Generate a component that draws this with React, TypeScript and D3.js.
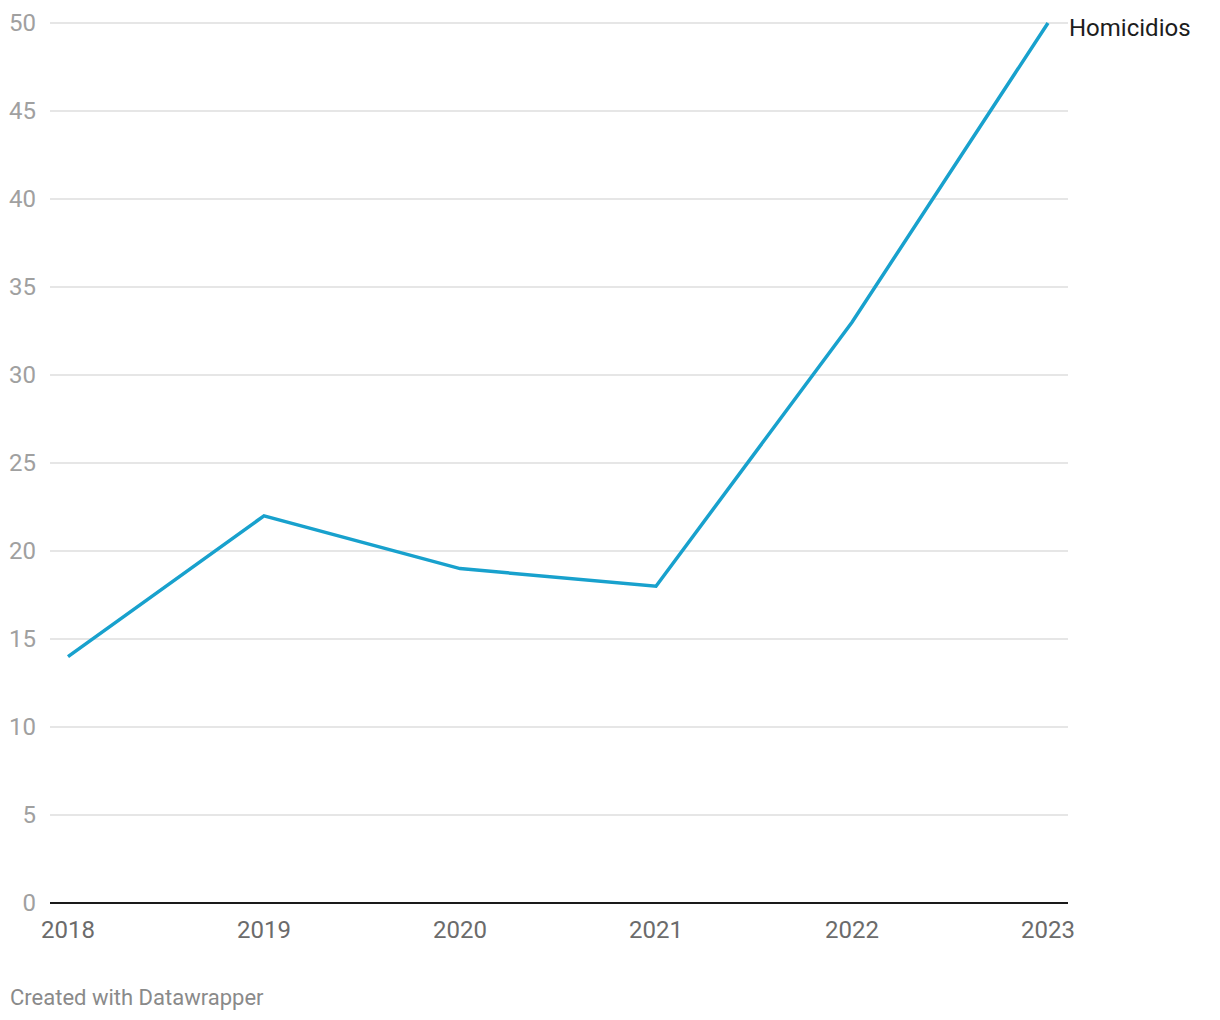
import React from "react";
import * as d3 from "d3";

const years = ["2018", "2019", "2020", "2021", "2022", "2023"];
const homicidios = [14, 22, 19, 18, 33, 50];
const yTicks = [0, 5, 10, 15, 20, 25, 30, 35, 40, 45, 50];
const seriesName = "Homicidios";

export default function App() {
  const W = 1220, H = 1020;
  const x = d3.scalePoint<string>().domain(years).range([68, 1048]);
  const y = d3.scaleLinear().domain([0, 50]).range([903, 23]);
  const line = d3
    .line<number>()
    .x((_, i) => x(years[i]) as number)
    .y((d) => y(d));
  const font = "Roboto, 'Noto Sans', sans-serif";
  const last = homicidios[homicidios.length - 1];
  return (
    <div style={{ position: "absolute", left: 0, top: 0 }}>
      <svg width={W} height={H} style={{ display: "block", background: "#fff" }} fontFamily={font}>
        {yTicks.map((t) => (
          <g key={t}>
            {t !== 0 && (
              <line x1={50} x2={1068} y1={y(t)} y2={y(t)} stroke="#dedede" strokeWidth={1.3} />
            )}
            <text x={36} y={y(t)} dy="0.35em" textAnchor="end" fontSize={24} fill="#a0a0a0">
              {t}
            </text>
          </g>
        ))}
        <line x1={50} x2={1068} y1={y(0)} y2={y(0)} stroke="#1a1a1a" strokeWidth={1.8} />
        {years.map((yr) => (
          <text key={yr} x={x(yr)} y={930} dy="0.35em" textAnchor="middle" fontSize={24} fill="#6b6b6b">
            {yr}
          </text>
        ))}
        <path d={line(homicidios) || ""} fill="none" stroke="#18a1cd" strokeWidth={3.5} strokeLinejoin="miter" />
        <text x={1069} y={y(last) + 5} dy="0.35em" fontSize={24} fill="#1d1d1d">
          {seriesName}
        </text>
        <text x={10} y={997} dy="0.35em" fontSize={22} fill="#8a8a8a">
          Created with Datawrapper
        </text>
      </svg>
    </div>
  );
}
